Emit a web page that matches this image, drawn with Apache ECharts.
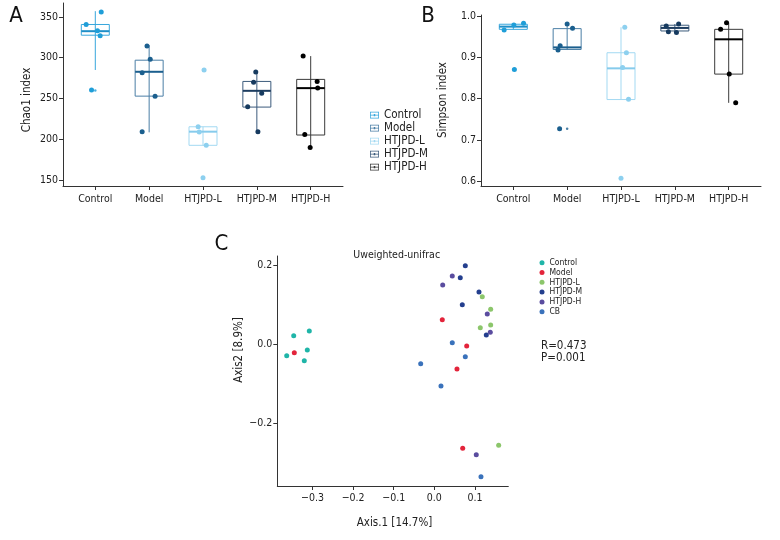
<!DOCTYPE html>
<html><head><meta charset="utf-8">
<script src="https://cdn.jsdelivr.net/npm/echarts@6/dist/echarts.min.js"></script>
<style>html,body{margin:0;padding:0;background:#fff}#c{width:780px;height:540px}</style>
</head><body><div id="c"></div>
<script>
const groups = ['Control','Model','HTJPD-L','HTJPD-M','HTJPD-H'];
// Panel A: Chao1 box stats [min, Q1, median, Q3, max]
const chaoBox = [[285,327.6,332.5,340.7,357],[208.7,253,282.8,297,315.4],[192.8,192.8,209.5,215.5,215.5],[209.5,239.6,259.5,271,282.4],[189.5,205.4,262.8,273.5,302]];
const chaoOutliers = [[260],[],[285,153.2],[],[]];
const chaoPoints = [[340.7,356,333,327,260.4],[314.5,298,281.5,253,209.5],[285,215.5,209,192.8,153.2],[282.4,270,256.6,240,209.5],[302,271,263,206,190]];
const chaoJitter = [[-0.17,0.11,0.04,0.09,-0.07],[-0.04,0.02,-0.13,0.11,-0.13],[0.02,-0.09,-0.07,0.06,0],[-0.02,-0.06,0.09,-0.17,0.02],[-0.14,0.12,0.13,-0.11,-0.01]];
// Panel B: Simpson
const simBox = [[0.969,0.969,0.9756,0.9814,0.984],[0.9186,0.920,0.925,0.9707,0.982],[0.798,0.798,0.874,0.912,0.974],[0.961,0.965,0.9724,0.979,0.982],[0.79,0.86,0.9447,0.969,0.985]];
const simOutliers = [[0.8714],[0.7271],[0.6064],[],[]];
const simPoints = [[0.9675,0.9797,0.984,0.8714],[0.982,0.9716,0.929,0.9186,0.7271],[0.974,0.912,0.8763,0.7988,0.6064],[0.977,0.982,0.963,0.961],[0.969,0.985,0.86,0.79]];
const simJitter = [[-0.17,0.01,0.19,0.02],[0,0.1,-0.13,-0.17,-0.14],[0.07,0.1,0.03,0.14,0],[-0.16,0.07,-0.12,0.03],[-0.15,-0.04,0.01,0.13]];
const chaoTicks = [150,200,250,300,350];
const simTicks = [0.6,0.7,0.8,0.9,1.0];
// Panel C: PCoA
const pcoaGroups = ['Control','Model','HTJPD-L','HTJPD-M','HTJPD-H','CB'];
const pcoaControl = [[-0.3463,0.0217],[-0.3079,0.0335],[-0.3128,-0.0144],[-0.3202,-0.0413],[-0.3635,-0.0288]];
const pcoaModel = [[-0.3448,-0.0212],[0.0197,0.0620],[0.0798,-0.0043],[0.0559,-0.0623],[0.0700,-0.2623]];
const pcoaL = [[0.1182,0.1200],[0.1389,0.0883],[0.1389,0.0487],[0.1133,0.0419],[0.1586,-0.2547]];
const pcoaM = [[0.0764,0.1983],[0.0640,0.1680],[0.1101,0.1319],[0.0690,0.0999],[0.1281,0.0235]];
const pcoaH = [[0.0443,0.1723],[0.0207,0.1496],[0.1305,0.0764],[0.1379,0.0303],[0.1034,-0.2784]];
const pcoaCB = [[0.0443,0.0040],[0.0764,-0.0313],[-0.0335,-0.0489],[0.0165,-0.1052],[0.1150,-0.3339]];
const pcoaXTicks = [-0.3,-0.2,-0.1,0,0.1];
const pcoaYTicks = [-0.2,0,0.2];

const FONT = "'Liberation Sans Narrow','DejaVu Sans Condensed',sans-serif";
const pointColors = ['#1f9ed8','#1b5f8e','#8dd0ef','#163a5f','#000000'];
const boxColors = ['#38a7dd','#4b7fa6','#a3d9f2','#3c5b7c','#3a3a3a'];
const medColors = ['#1f8fc8','#1b5f8e','#86cbec','#1d3d60','#000000'];
const pcoaColors = ['#1fb5a8','#e3243b','#8cc66b','#243f8e','#5a4c9f','#3a72bb'];
const pcoaData = [pcoaControl,pcoaModel,pcoaL,pcoaM,pcoaH,pcoaCB];

function minus(v){ return v.toFixed(1).replace('-', '\u2212'); }

function boxSeries(boxes, axisIdx){
  return boxes.map((b,i)=>({
    type:'custom', name: groups[i], xAxisIndex: axisIdx, yAxisIndex: axisIdx,
    itemStyle:{color: boxColors[i]},
    encode:{x:0, y:[1,2,3,4,5]},
    data:[[i+1].concat(b)],
    z:2,
    renderItem:function(params, api){
      const x = api.value(0);
      const pMin = api.coord([x, api.value(1)]);
      const pQ1 = api.coord([x, api.value(2)]);
      const pMed = api.coord([x, api.value(3)]);
      const pQ3 = api.coord([x, api.value(4)]);
      const pMax = api.coord([x, api.value(5)]);
      const hw = api.size([0.26,0])[0];
      const cx = pMin[0];
      return {type:'group', children:[
        {type:'line', shape:{x1:cx,y1:pMin[1],x2:cx,y2:pMax[1]}, style:{stroke:boxColors[i], lineWidth:1}},
        {type:'rect', shape:{x:cx-hw,y:pQ3[1],width:2*hw,height:pQ1[1]-pQ3[1]}, style:{stroke:boxColors[i], fill:'none', lineWidth:1}},
        {type:'line', shape:{x1:cx-hw,y1:pMed[1],x2:cx+hw,y2:pMed[1]}, style:{stroke:medColors[i], lineWidth:2}}
      ]};
    }
  }));
}
function pointSeries(points, jitter, outliers, axisIdx){
  const s = [];
  points.forEach((pts,i)=>{
    s.push({type:'scatter', xAxisIndex:axisIdx, yAxisIndex:axisIdx, symbolSize:5, z:4,
      itemStyle:{color:pointColors[i], opacity:1}, silent:true,
      data: pts.map((v,k)=>[i+1+jitter[i][k], v])});
    s.push({type:'scatter', xAxisIndex:axisIdx, yAxisIndex:axisIdx, symbolSize:2.5, z:3,
      itemStyle:{color:pointColors[i]}, silent:true,
      data: outliers[i].map(v=>[i+1, v])});
  });
  return s;
}
const axisCommon = {
  axisLine:{show:true, onZero:false, lineStyle:{color:'#333', width:1}},
  axisTick:{show:true, length:4, lineStyle:{color:'#333'}},
  splitLine:{show:false},
  axisLabel:{color:'#222', fontSize:10.5, fontFamily:FONT, margin:5}
};
function catX(gridIndex){
  return Object.assign({}, axisCommon, {type:'value', gridIndex, min:0.4, max:5.6,
    axisTick:{show:true, length:4, lineStyle:{color:'#333'}, customValues:[1,2,3,4,5]},
    axisLabel:Object.assign({}, axisCommon.axisLabel, {customValues:[1,2,3,4,5], margin:8, formatter:v=>groups[Math.round(v)-1]||''})});
}
const legendIcon = 'path://M0,0H12V9H0Z M1,1V8H11V1Z M1,4H11V5.2H1Z M5,3H7V6.2H5Z';

const option = {
  animation:false,
  textStyle:{fontFamily:FONT},
  grid:[
    {left:63, top:3, width:280, height:183},
    {left:481, top:15, width:280, height:171},
    {left:277.3, top:256, width:231, height:230}
  ],
  xAxis:[
    catX(0), catX(1),
    Object.assign({}, axisCommon, {type:'value', gridIndex:2, min:-0.3867, max:0.1823,
      axisTick:{show:true, length:4, lineStyle:{color:'#333'}, customValues:pcoaXTicks},
      axisLabel:Object.assign({}, axisCommon.axisLabel, {customValues:pcoaXTicks, margin:7, formatter:minus})})
  ],
  yAxis:[
    Object.assign({}, axisCommon, {type:'value', gridIndex:0, min:143, max:367,
      axisTick:{show:true, length:4, lineStyle:{color:'#333'}, customValues:chaoTicks},
      axisLabel:Object.assign({}, axisCommon.axisLabel, {customValues:chaoTicks})}),
    Object.assign({}, axisCommon, {type:'value', gridIndex:1, min:0.5875, max:1.0039,
      axisTick:{show:true, length:4, lineStyle:{color:'#333'}, customValues:simTicks},
      axisLabel:Object.assign({}, axisCommon.axisLabel, {customValues:simTicks, formatter:v=>v.toFixed(1)})}),
    Object.assign({}, axisCommon, {type:'value', gridIndex:2, min:-0.3574, max:0.2227,
      axisTick:{show:true, length:4, lineStyle:{color:'#333'}, customValues:pcoaYTicks},
      axisLabel:Object.assign({}, axisCommon.axisLabel, {customValues:pcoaYTicks, formatter:minus})})
  ],
  legend:[
    {data:groups.map(g=>({name:g, icon:legendIcon})), orient:'vertical', left:370, top:108.5, padding:0,
      itemWidth:9, itemHeight:8, itemGap:0, selectedMode:false,
      textStyle:{fontSize:11.5, lineHeight:13, color:'#222', fontFamily:FONT}},
    {data:pcoaGroups.map(g=>({name:g+' ', icon:'circle'})), orient:'vertical', left:539.5, top:257.8, padding:0,
      itemWidth:5, itemHeight:5, itemGap:0, selectedMode:false, formatter:n=>n.trim(),
      textStyle:{fontSize:8.5, lineHeight:9.8, color:'#222', fontFamily:FONT}}
  ],
  graphic:[
    {type:'text', x:16, y:16, style:{text:'A', fontSize:22, fontFamily:FONT, fill:'#111', align:'center', verticalAlign:'middle'}},
    {type:'text', x:428, y:16.5, style:{text:'B', fontSize:22, fontFamily:FONT, fill:'#111', align:'center', verticalAlign:'middle'}},
    {type:'text', x:221.5, y:244.5, style:{text:'C', fontSize:22, fontFamily:FONT, fill:'#111', align:'center', verticalAlign:'middle'}},
    {type:'text', x:26.7, y:100, rotation:Math.PI/2, style:{text:'Chao1 index', fontSize:11.5, fontFamily:FONT, fill:'#222', align:'center', verticalAlign:'middle'}},
    {type:'text', x:443.3, y:100, rotation:Math.PI/2, style:{text:'Simpson index', fontSize:11.5, fontFamily:FONT, fill:'#222', align:'center', verticalAlign:'middle'}},
    {type:'text', x:396.7, y:255, style:{text:'Uweighted-unifrac', fontSize:10.5, fontFamily:FONT, fill:'#222', align:'center', verticalAlign:'middle'}},
    {type:'text', x:394.5, y:523, style:{text:'Axis.1 [14.7%]', fontSize:11.5, fontFamily:FONT, fill:'#222', align:'center', verticalAlign:'middle'}},
    {type:'text', x:239, y:350, rotation:Math.PI/2, style:{text:'Axis2 [8.9%]', fontSize:11.5, fontFamily:FONT, fill:'#222', align:'center', verticalAlign:'middle'}},
    {type:'text', x:541, y:345.7, style:{text:'R=0.473', fontSize:11.5, fontFamily:FONT, fill:'#222', align:'left', verticalAlign:'middle'}},
    {type:'text', x:541, y:357.7, style:{text:'P=0.001', fontSize:11.5, fontFamily:FONT, fill:'#222', align:'left', verticalAlign:'middle'}}
  ],
  series:[].concat(
    boxSeries(chaoBox,0),
    pointSeries(chaoPoints,chaoJitter,chaoOutliers,0),
    boxSeries(simBox,1),
    pointSeries(simPoints,simJitter,simOutliers,1),
    pcoaData.map((d,i)=>({type:'scatter', name:pcoaGroups[i]+' ', xAxisIndex:2, yAxisIndex:2, symbolSize:5,
      itemStyle:{color:pcoaColors[i], opacity:1}, data:d}))
  )
};
const chart = echarts.init(document.getElementById('c'));
chart.setOption(option);
</script></body></html>
